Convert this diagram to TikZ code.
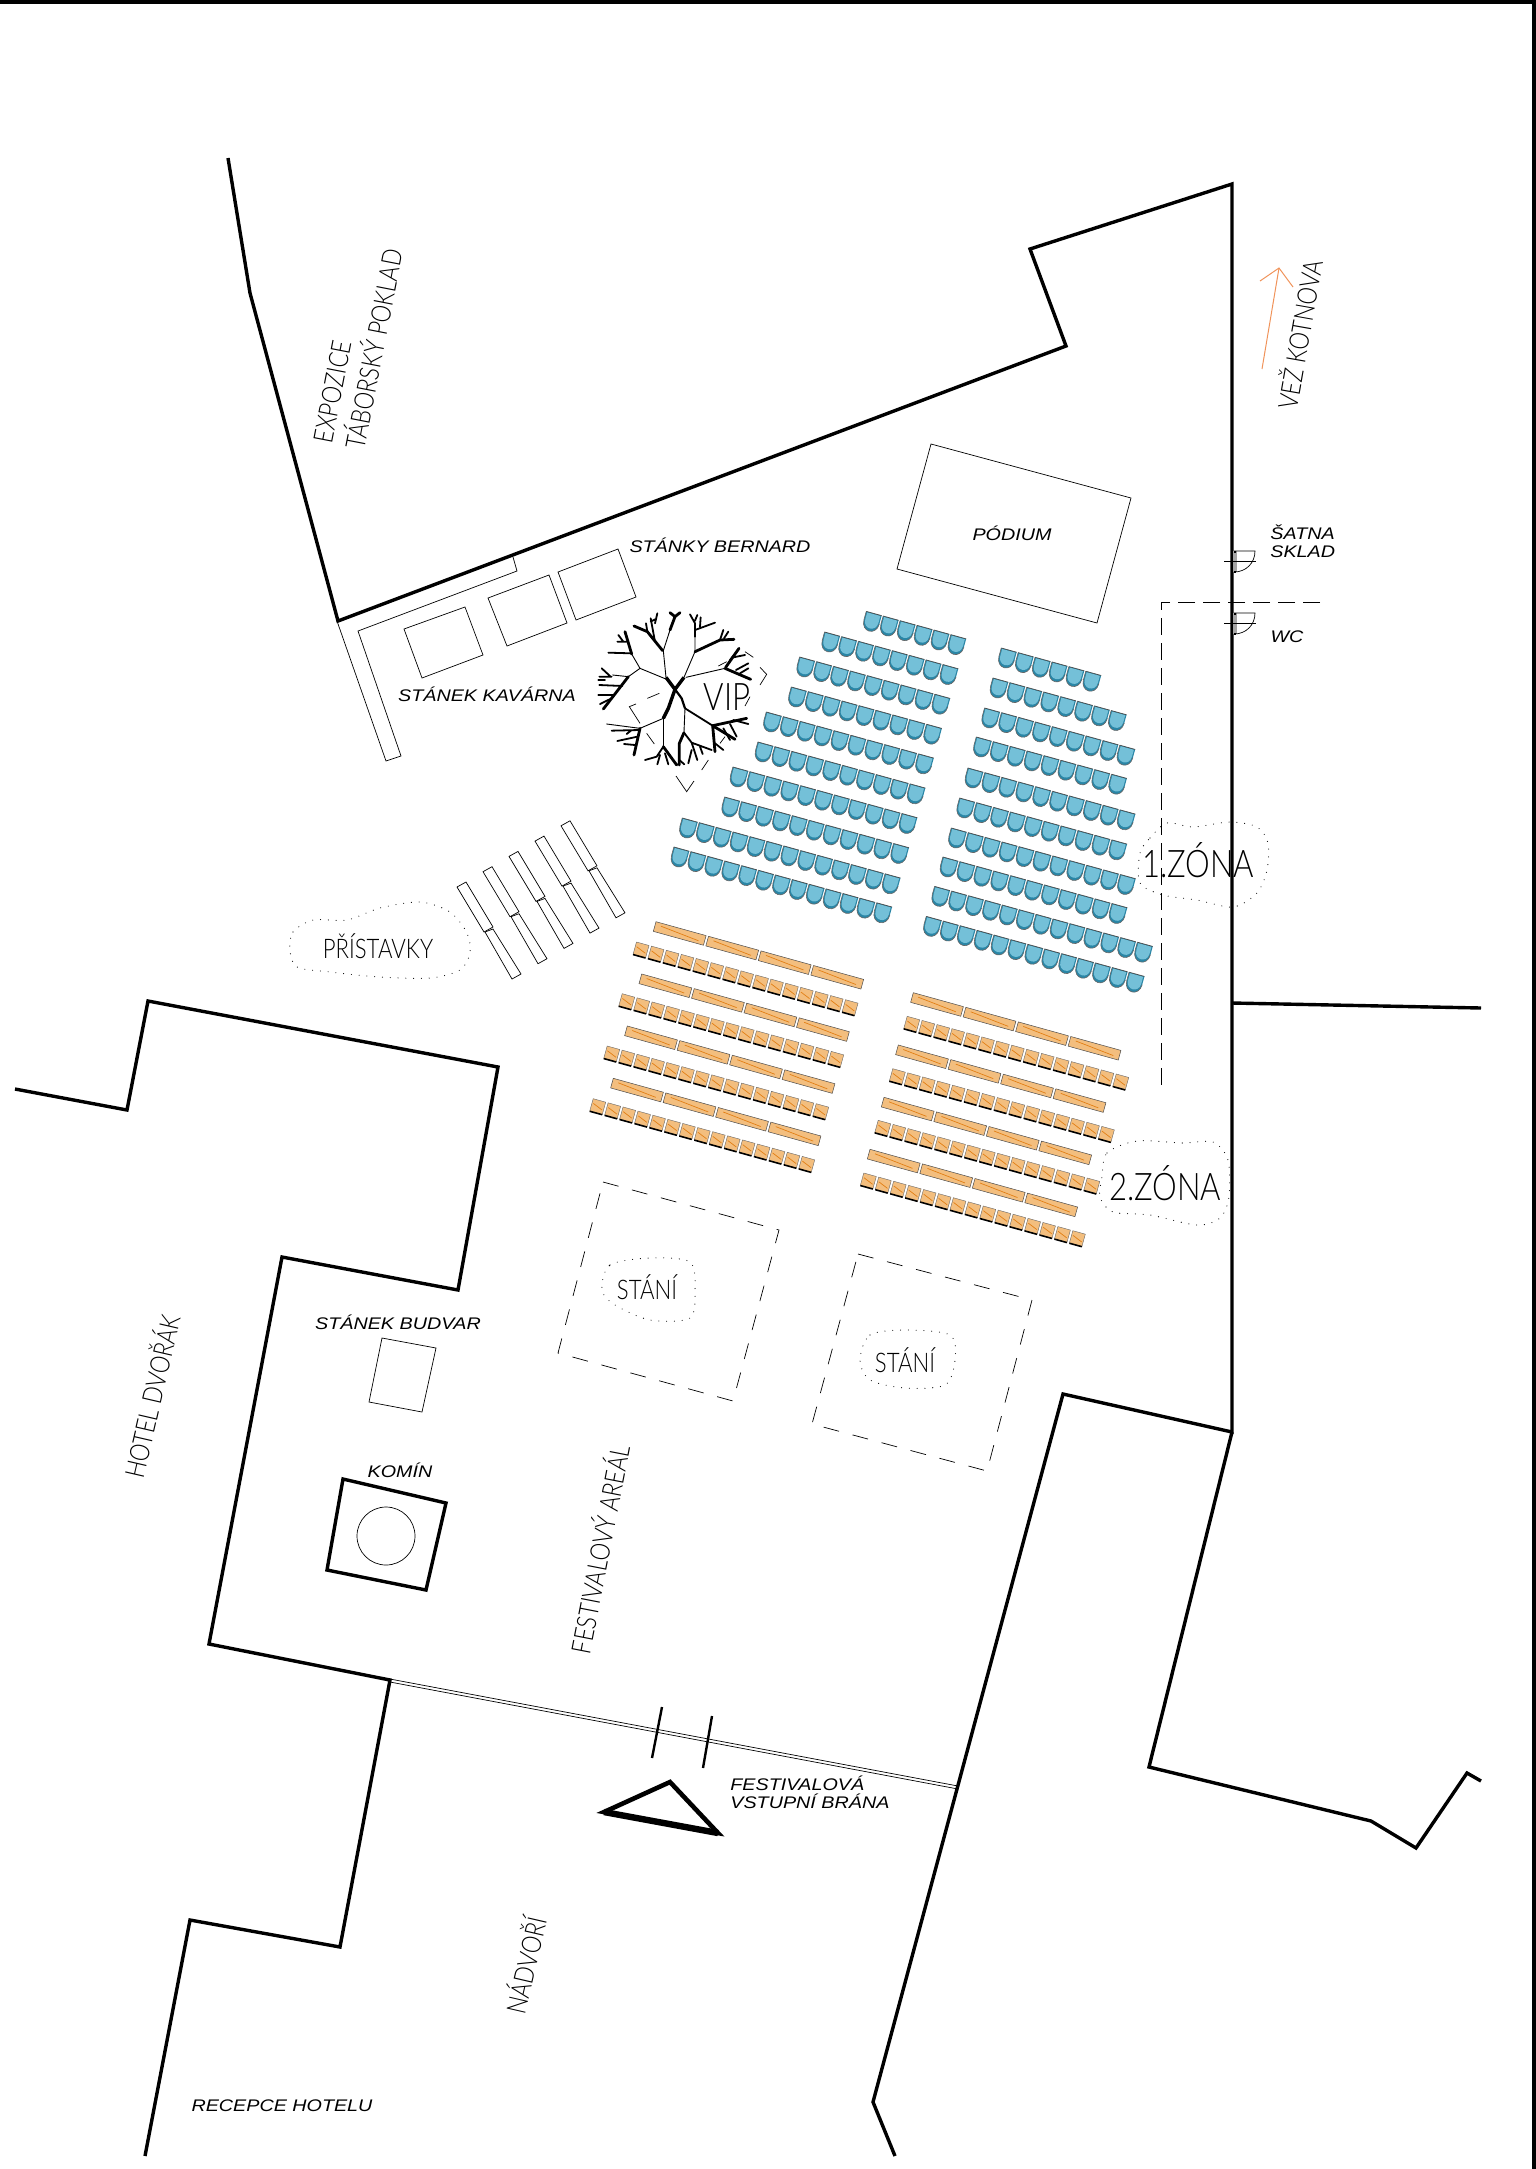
\documentclass[tikz,border=0pt]{standalone}
\usepackage{fontspec}
\usetikzlibrary{calc}
\usetikzlibrary{positioning}
\newfontfamily\thinfont[FakeStretch=0.82]{Lato Light}
\newfontfamily\planfont[FakeStretch=1.175]{Liberation Sans Italic}
\definecolor{seatblue}{HTML}{2A86A6}
\definecolor{seatpale}{HTML}{74C0D8}
\definecolor{woodpale}{HTML}{F3BE7E}
\definecolor{woodline}{HTML}{E27F14}
\definecolor{arrowline}{HTML}{F0935A}
\tikzset{
  wall/.style={line width=1.7pt,line join=miter},
  thinline/.style={line width=0.35pt},
  dashline/.style={line width=0.35pt,dash pattern=on 8.5pt off 4pt},
  stanidash/.style={line width=0.35pt,dash pattern=on 8pt off 7pt},
  blobline/.style={line width=0.55pt,line cap=round,dash pattern=on 0pt off 3.9pt},
  biglabel/.style={font=\thinfont\fontsize{13.5}{16.5}\selectfont,inner sep=0pt,align=left},
  zonelabel/.style={font=\thinfont\fontsize{19}{21}\selectfont,inner sep=0pt},
  smalllabel/.style={font=\planfont\fontsize{8.4}{9.2}\selectfont,inner sep=0pt,align=left},
  treeA/.style={line width=1.4pt,line cap=round,line join=round},
  treeB/.style={line width=0.9pt,line cap=round,line join=round},
  treeC/.style={line width=0.45pt,line cap=round,line join=round},
  blueseat/.pic={
    \fill[seatblue] (-8,-8.5) -- (8,-8.5) -- (8,0) .. controls (8,13) and (-8,13) .. (-8,0) -- cycle;
    \fill[seatpale] (-6.8,-7.8) -- (6.8,-7.8) -- (6.8,-0.5) .. controls (6.8,9.5) and (-6.8,9.5) .. (-6.8,-0.5) -- cycle;
    \draw[line width=0.35pt,black!70] (-8,-8.5) -- (8,-8.5);
    \draw[line width=0.3pt,black!60] (-8,-8.5) -- (-8,0) .. controls (-8,13) and (8,13) .. (8,0);
  },
  woodseat/.pic={
    \fill[woodpale] (-6.5,-6.5) rectangle (6.5,6.5);
    \draw[woodline,line width=0.35pt] (-5,-2) -- (5,2);
    \draw[line width=0.2pt,black!60] (-6.5,6.5) -- (-6.5,-6.5) -- (6.5,-6.5) -- (6.5,6.5);
    \draw[line width=0.8pt] (-6.5,6.5) -- (6.5,6.5);
  },
  woodbench/.pic={
    \fill[woodpale] (0,0) rectangle (52,10);
    \draw[woodline,line width=0.35pt] (6,3) -- (46,7);
    \draw[line width=0.25pt,black!70] (0,0) rectangle (52,10);
  }
}
\begin{document}
\begin{tikzpicture}[x=0.5pt,y=-0.5pt]
  % page edge
  \useasboundingbox (0,0) rectangle (1536,2169);
  \fill (0,0) rectangle (1536,4);
  \fill (1532,0) rectangle (1536,2169);

  % walls
  \draw[wall] (228,158) -- (250,293) -- (338,621) -- (1066,346) -- (1030,249) -- (1232,184) -- (1232,1432) -- (1063,1394) -- (873,2102) -- (895,2156);
  \draw[wall] (1232,1432) -- (1149,1767) -- (1371,1821) -- (1416,1848) -- (1467,1773) -- (1481,1781);
  \draw[wall] (1232,1003) -- (1481,1008);
  \draw[wall] (15,1089) -- (127,1110) -- (148,1001) -- (498,1067) -- (458,1290) -- (282,1257) -- (209,1644) -- (390,1680) -- (340,1947) -- (190,1920) -- (145,2156);

  % entrance
  \draw[thinline] (390,1679) -- (958,1786);
  \draw[thinline] (390,1682) -- (958,1789);
  \draw[line width=1.2pt] (662,1707) -- (652,1758);
  \draw[line width=1.2pt] (712,1716) -- (703,1768);
  \draw[line width=2.3pt,line join=miter] (604,1812) -- (670,1782) -- (718,1833) -- cycle;
  \draw[line width=3.2pt] (604,1812) -- (718,1833);

  % kiosks by the wall
  \draw[thinline] (337,621) -- (386,761) -- (401,756) -- (358,631) -- (517,571) -- (513,557);
  \draw[thinline] (404,629) -- (465,607) -- (483,655) -- (422,678) -- cycle;
  \draw[thinline] (488,598) -- (549,575) -- (567,623) -- (507,646) -- cycle;
  \draw[thinline] (558,572) -- (618,549) -- (636,597) -- (576,620) -- cycle;
  \draw[thinline] (931,444) -- (1131,498) -- (1097,623) -- (897,569) -- cycle;

  % annexes
  \foreach \k in {0,...,4} {
    \begin{scope}[shift={(\k*26,-\k*15.3)}]
      \draw[thinline] (457,887) -- (466,882) -- (493,927) -- (484,932) -- cycle;
      \draw[thinline] (485,932) -- (493,929) -- (521,974) -- (512,979) -- cycle;
    \end{scope}
  }

  % zone borders
  \draw[dashline] (1320,602) -- (1161,602) -- (1161,1085);
  \draw[stanidash] (603,1182) -- (779,1230) -- (733,1401) -- (558,1353) -- cycle;
  \draw[stanidash] (858,1254) -- (1032,1300) -- (987,1471) -- (812,1424) -- cycle;

  % doors
  \foreach \d in {551,613} {
    \fill[black!35] (1233,\d) rectangle (1237,\d+21);
    \draw[line width=1pt] (1235,\d) -- (1235,\d+2);
    \draw[line width=1pt] (1235,\d+20) -- (1235,\d+22);
    \draw[thinline] (1234,\d) -- (1255,\d) .. controls (1255,\d+12) and (1246,\d+21) .. (1234,\d+21);
    \draw[thinline] (1224,\d+10) -- (1256,\d+10);
  }

  % tree
  \begin{scope}[shift={(560,580)},scale=1/3]
    \draw[line width=1.7pt,line join=round] (318,292) -- (345,328) -- (372,292);
    \draw[line width=1.7pt,line join=round] (345,328) -- (325,385) -- (310,415);
    \draw[line width=1.1pt] (345,328) -- (365,355) -- (375,385);
    \draw[treeC] (318,292) -- (310,212) -- (330,150);
    \draw[treeC] (372,292) -- (405,215) -- (405,170);
    \draw[treeC] (325,300) -- (240,265) -- (205,290);
    \draw[treeC] (240,265) -- (215,222);
    \draw[treeC] (378,292) -- (495,265);
    \draw[treeC] (375,385) -- (372,455);
    \draw[treeC] (310,415) -- (310,500);
    \draw[treeB] (375,385) -- (458,437);
    \draw[treeC] (310,415) -- (240,445) -- (140,432);
    \draw[treeA] (308,212) -- (262,155) -- (222,138);
    \draw[treeB] (262,155) -- (258,130) (285,185) -- (272,115) (285,130) -- (292,100) (272,125) -- (285,118);
    \draw[treeA] (330,150) -- (345,110) -- (360,98) (345,110) -- (330,98);
    \draw[treeB] (405,170) -- (405,130) -- (390,103) (405,150) -- (465,128) (420,140) -- (422,112) (405,122) -- (412,105);
    \draw[treeA] (405,215) -- (480,180) -- (522,178);
    \draw[treeB] (480,180) -- (490,150) (492,175) -- (505,155);
    \draw[treeA] (495,265) -- (572,298);
    \draw[treeA] (497,262) -- (537,205);
    \draw[treeB] (520,232) -- (555,225) (528,270) -- (565,250) (510,240) -- (530,215) (540,280) -- (565,265);
    \draw[treeA] (215,222) -- (195,155);
    \draw[treeB] (215,220) -- (145,218) (200,185) -- (172,185) (190,185) -- (175,165);
    \draw[treeA] (205,290) -- (130,387);
    \draw[treeB] (187,318) -- (118,315) (160,345) -- (115,345) (155,355) -- (120,372) (150,288) -- (125,265) (155,290) -- (118,290) (135,300) -- (115,300);
    \draw[treeC] (205,290) -- (158,285);
    \draw[treeA] (240,445) -- (222,525);
    \draw[treeB] (238,450) -- (155,452) (232,470) -- (172,483) (225,495) -- (192,492) (215,450) -- (200,462);
    \draw[treeA] (458,437) -- (560,415);
    \draw[treeA] (458,437) -- (465,515) (458,437) -- (525,478);
    \draw[treeB] (510,432) -- (530,470) (520,420) -- (565,432) (490,445) -- (510,480) (465,490) -- (490,510);
    \draw[treeA] (310,500) -- (350,555) (358,555) -- (358,490) -- (372,458);
    \draw[treeB] (310,500) -- (290,530) -- (255,540) (300,525) -- (292,553) (315,520) -- (325,553) (358,540) -- (373,553);
    \draw[treeB] (372,458) -- (395,488) -- (455,510) (395,488) -- (412,540) (395,510) -- (385,550) (420,500) -- (428,522);
    % VIP border
    \draw[thinline] (555,215) -- (580,232) (600,262) -- (620,283) -- (600,315) (570,350) -- (555,378);
    \draw[thinline] (500,245) -- (475,258) (298,340) -- (262,355) (228,372) -- (208,380) -- (240,430) (260,460) -- (283,492);
    \draw[thinline] (348,588) -- (380,635) -- (402,603) (425,570) -- (445,540) (480,490) -- (495,470);
  \end{scope}

  % seats, first block
  \foreach \sx/\sy/\sn in {871.7/621.7/6,830/642.3/8,805/667.3/9,796.7/697.3/9,771.7/722.3/10,763.3/752.3/10,738.3/777.3/11,730/807.3/11,687.7/828.3/13,679.3/857.3/13,1006.7/658.3/6,998.3/688.3/8,990/718.3/9,981.7/747.3/9,973.3/778.3/10,965/808.3/10,956.7/838.3/11,948.3/867.3/11,940/896.7/13,931.7/926.7/13}
    \foreach \k in {1,...,\sn}
      \pic[rotate=-15.4] at ({\sx+(\k-1)*16.9},{\sy+(\k-1)*4.65}) {blueseat};

  % benches and stools
  \foreach \bx/\by in {656/921.7,641.7/974,627.3/1026,613.3/1078.3,913.3/992.7,898.3/1045,884/1097.3,870/1149.3}
    \foreach \k in {0,...,3}
      \pic[rotate=-15.5] at ({\bx+\k*52.5},{\by+\k*14.6}) {woodbench};
  \foreach \sx/\sy in {641/950,626.7/1001.7,611.7/1054,597.7/1106.7,911.7/1024.3,897.3/1076.7,882.7/1128.3,868.3/1181}
    \foreach \k in {0,...,14}
      \pic[rotate=-15.5] at ({\sx+\k*14.93},{\sy+\k*4.12}) {woodseat};

  % dotted outlines
  \draw[blobline] plot[smooth cycle] coordinates {(290,950) (293,932) (313,920) (347,920) (380,908) (420,902) (450,912) (467,933) (470,953) (460,970) (430,978) (380,977) (330,972) (297,967)};
  \draw[blobline] plot[smooth cycle] coordinates {(1140,853) (1150,838) (1167,823) (1193,827) (1230,822) (1257,827) (1268,843) (1267,870) (1257,893) (1233,907) (1197,900) (1163,895) (1140,883)};
  \draw[blobline] plot[smooth cycle] coordinates {(1102,1177) (1107,1153) (1137,1141) (1183,1143) (1213,1142) (1228,1160) (1229,1197) (1220,1218) (1197,1225) (1150,1215) (1113,1212) (1100,1197)};
  \draw[blobline] plot[smooth cycle] coordinates {(602,1290) (610,1265) (650,1258) (690,1262) (695,1290) (690,1318) (650,1320) (615,1305)};
  \draw[blobline] plot[smooth cycle] coordinates {(860,1360) (870,1335) (905,1330) (950,1335) (955,1360) (945,1385) (905,1388) (870,1380)};

  % chimney
  \draw[wall] (343,1479) -- (446,1503) -- (426,1590) -- (327,1570) -- cycle;
  \draw[thinline] (386,1536) circle (29);
  \draw[thinline] (382,1338) -- (436,1348) -- (422,1412) -- (369,1402) -- cycle;

  % direction arrow
  \draw[arrowline,line width=0.5pt] (1262,369) -- (1279,268);
  \draw[arrowline,line width=0.5pt] (1260,281) -- (1279,268) -- (1293,287);

  % labels
  \node[biglabel,rotate=79] (expo) at (358,346) {EXPOZICE\\TÁBORSKÝ POKLAD};
  \node[biglabel,rotate=80] (kotnov) at (1298,334) {VEŽ KOTNOVA};
  \node[biglabel,rotate=79] (areal) at (598,1549) {FESTIVALOVÝ AREÁL};
  \node[biglabel,rotate=77] (hotel) at (150,1396) {HOTEL DVOŘÁK};
  \node[biglabel,rotate=77] (nadvori) at (524,1965) {NÁDVOŘÍ};
  \node[biglabel] (pristavky) at (378,946) {PŘÍSTAVKY};
  \node[biglabel] (stani1) at (647,1287) {STÁNÍ};
  \node[biglabel] (stani2) at (905,1360) {STÁNÍ};
  \node[zonelabel] (vip) at (727,697) {VIP};
  \node[zonelabel] (zona1) at (1198,860) {1.ZÓNA};
  \node[zonelabel] (zona2) at (1165,1183) {2.ZÓNA};
  \node[smalllabel] (bernard) at (720,545) {STÁNKY BERNARD};
  \node[smalllabel] (podium) at (1012,533) {PÓDIUM};
  \node[smalllabel,anchor=west] (satna) at (1270,541) {ŠATNA\\SKLAD};
  \node[smalllabel] (wc) at (1287,637) {WC};
  \node[smalllabel] (kavarna) at (487,694) {STÁNEK KAVÁRNA};
  \node[smalllabel] (budvar) at (398,1322) {STÁNEK BUDVAR};
  \node[smalllabel] (komin) at (400,1470) {KOMÍN};
  \node[smalllabel,anchor=west] (brana) at (730,1792) {FESTIVALOVÁ\\VSTUPNÍ BRÁNA};
  \node[smalllabel] (recepce) at (282,2106) {RECEPCE HOTELU};
\end{tikzpicture}
\end{document}
